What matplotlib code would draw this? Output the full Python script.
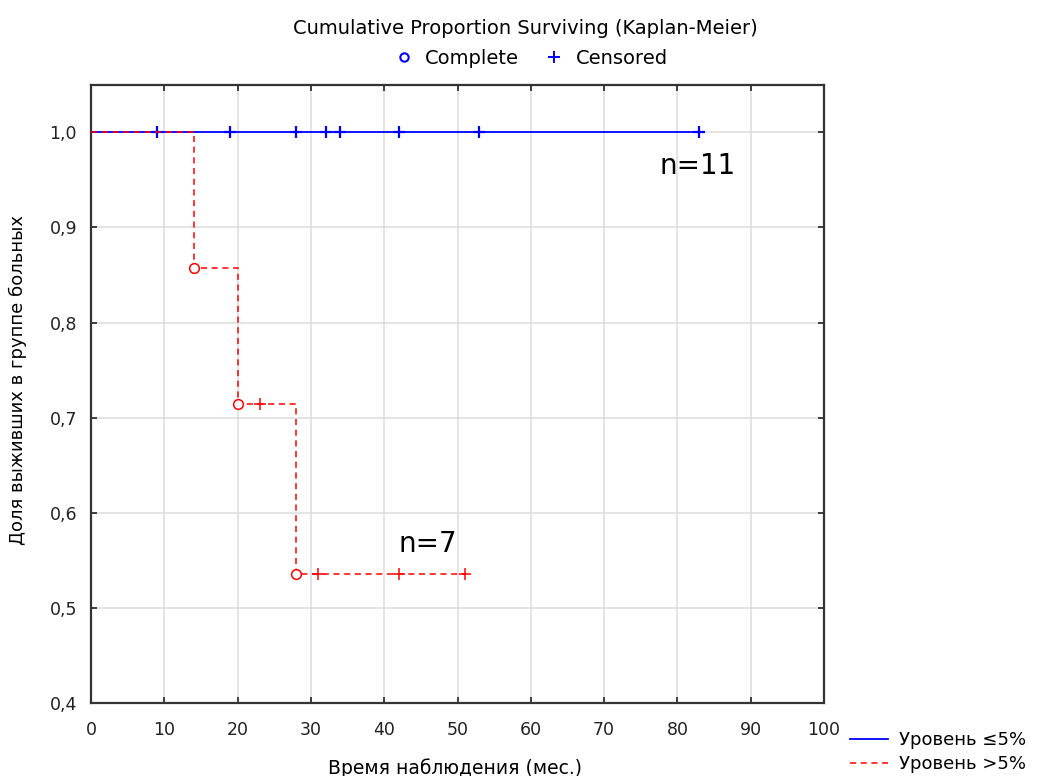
import matplotlib
matplotlib.use("Agg")
import matplotlib.pyplot as plt
from matplotlib.lines import Line2D
from matplotlib.ticker import FuncFormatter

# ---- data ----
# Group "Уровень ≤5%" (n=11): no events, censored observations
blue_step_times = [0, 83]
blue_step_surv = [1.0, 1.0]
blue_censor_times = [9, 19, 28, 32, 34, 42, 53, 83]
blue_censor_surv = [1.0, 1.0, 1.0, 1.0, 1.0, 1.0, 1.0, 1.0]

# Group "Уровень >5%" (n=7)
red_step_times = [0, 14, 20, 28, 51]
red_step_surv = [1.0, 0.857, 0.714, 0.536, 0.536]
red_event_times = [14, 20, 28]
red_event_surv = [0.857, 0.714, 0.536]
red_censor_times = [23, 31, 42, 51]
red_censor_surv = [0.714, 0.536, 0.536, 0.536]

x_ticks = [0, 10, 20, 30, 40, 50, 60, 70, 80, 90, 100]
y_ticks = [0.4, 0.5, 0.6, 0.7, 0.8, 0.9, 1.0]

BLUE = "#0000ff"
RED = "#ff0000"

plt.rcParams["font.family"] = ["DejaVu Sans"]

fig = plt.figure(figsize=(10.38, 7.76), dpi=100)
ax = fig.add_axes([91 / 1038, 1 - 703 / 776, (824 - 91) / 1038, (703 - 84.7) / 776])

ax.step(blue_step_times, blue_step_surv, where="post", color=BLUE, lw=1.3, zorder=3)
ax.plot(blue_censor_times, blue_censor_surv, ls="none", marker="+", ms=9, mew=1.6,
        color=BLUE, zorder=4)

ax.step(red_step_times, red_step_surv, where="post", color=RED, lw=1.1,
        ls=(0, (4, 3)), zorder=5)
ax.plot(red_event_times, red_event_surv, ls="none", marker="o", ms=7, mew=1.1,
        mfc="white", mec=RED, zorder=6)
ax.plot(red_censor_times, red_censor_surv, ls="none", marker="+", ms=9, mew=1.1,
        color=RED, zorder=6)

ax.set_xlim(0, 100)
ax.set_ylim(0.4, 1.05)
ax.set_xticks(x_ticks)
ax.set_yticks(y_ticks)
ax.yaxis.set_major_formatter(FuncFormatter(lambda v, p: f"{v:.1f}".replace(".", ",")))
ax.grid(True, color="#dddddd", lw=1.1, zorder=0)
ax.set_axisbelow(True)
ax.tick_params(direction="in", length=4, width=1.2, top=True, right=True,
               labelsize=12.5, colors="#222222")
ax.tick_params(axis="x", pad=13)
ax.tick_params(axis="y", pad=10)
for s in ax.spines.values():
    s.set_color("#333333")
    s.set_linewidth(1.6)

ax.set_xlabel("Время наблюдения (мес.)", fontsize=13.5)
ax.xaxis.set_label_coords((455 - 91) / (824 - 91), -(768 - 703) / (703 - 84.7))
ax.xaxis.label.set_va("center")
ax.set_ylabel("Доля выживших в группе больных", fontsize=13)
ax.yaxis.set_label_coords(-(91 - 18) / (824 - 91), (703 - 380) / (703 - 84.7))
ax.yaxis.label.set_va("center")

ax.text(77.6, 0.956, "n=11", fontsize=20, color="black")
ax.text(41.9, 0.559, "n=7", fontsize=20, color="black")

fig.text(525 / 1038, 1 - 28 / 776, "Cumulative Proportion Surviving (Kaplan-Meier)",
         ha="center", va="center", fontsize=14)

top_handles = [
    Line2D([], [], ls="none", marker="o", ms=6, mfc="white", mec=BLUE, mew=1.5),
    Line2D([], [], ls="none", marker="+", ms=9, color=BLUE, mew=1.4),
]
fig.legend(top_handles, ["Complete", "Censored"], loc="center",
           bbox_to_anchor=(530 / 1038, 1 - 58 / 776), ncol=2, frameon=False,
           fontsize=14, handletextpad=0.5, columnspacing=1.2, handlelength=1.2)

bottom_handles = [
    Line2D([], [], color=BLUE, lw=1.3),
    Line2D([], [], color=RED, lw=1.1, ls=(0, (4, 3))),
]
fig.legend(bottom_handles, ["Уровень ≤5%", "Уровень >5%"], loc="upper left",
           bbox_to_anchor=(850 / 1038, 1 - 731 / 776), frameon=False,
           fontsize=13, handlelength=2.1, handletextpad=0.6, labelspacing=0.35,
           borderaxespad=0, borderpad=0)

fig.savefig("out.png", dpi=100)
